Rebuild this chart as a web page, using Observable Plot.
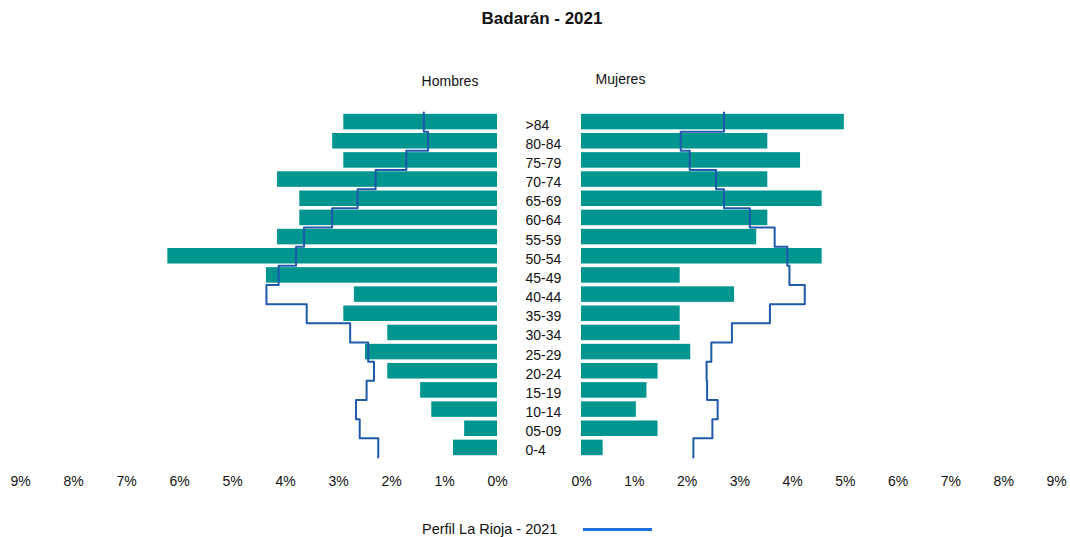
<!DOCTYPE html>
<html><head><meta charset="utf-8">
<script src="https://cdn.jsdelivr.net/npm/d3@7"></script>
<script src="https://cdn.jsdelivr.net/npm/@observablehq/plot@0.6"></script>
<style>
body{margin:0;background:#fff;font-family:"Liberation Sans",Arial,sans-serif;color:#111}
#root{position:relative;width:1070px;height:537px;overflow:hidden;background:#fff}
.abs{position:absolute;white-space:nowrap}
</style></head><body><div id="root"></div>
<script>
const title = "Badarán - 2021";
const leftTitle = "Hombres";
const rightTitle = "Mujeres";
const legendLabel = "Perfil La Rioja - 2021";
const ageGroups = [">84","80-84","75-79","70-74","65-69","60-64","55-59","50-54","45-49","40-44","35-39","30-34","25-29","20-24","15-19","10-14","05-09","0-4"];
const menPct   = [2.90,3.11,2.90,4.15,3.73,3.73,4.15,6.22,4.36,2.70,2.90,2.07,2.49,2.07,1.45,1.24,0.62,0.83];
const womenPct = [4.98,3.53,4.15,3.53,4.56,3.53,3.32,4.56,1.87,2.90,1.87,1.87,2.07,1.45,1.24,1.04,1.45,0.41];
const menRioja   = [1.39,1.31,1.72,2.30,2.64,3.12,3.65,3.80,4.13,4.36,3.60,2.78,2.44,2.33,2.47,2.67,2.60,2.25];
const womenRioja = [2.70,1.88,2.05,2.55,2.70,3.19,3.66,3.90,3.94,4.23,3.57,2.85,2.46,2.37,2.38,2.58,2.48,2.12];
const xTicks = [0,1,2,3,4,5,6,7,8,9];

const barColor = "#00958f";
const lineColor = "#1f5aaa";
const font = "'Liberation Sans', Arial, sans-serif";

function side(values, profile, opts) {
  const rows = ageGroups.map((g, i) => ({i, g, v: values[i]}));
  const steps = ageGroups.flatMap((g, i) => [{x: profile[i], y: i - 0.5}, {x: profile[i], y: i + 0.5}]);
  const marks = [
    Plot.rect(rows, {x1: 0, x2: "v", y1: d => d.i - 0.405, y2: d => d.i + 0.405, fill: barColor}),
    Plot.line(steps, {x: "x", y: "y", stroke: lineColor, strokeWidth: 2}),
    Plot.axisX({ticks: xTicks, tickFormat: d => d + "%", tickSize: 0, tickPadding: 19, label: null})
  ];
  if (opts.ageLabels) {
    marks.push(Plot.axisY({ticks: ageGroups.map((_, i) => i), tickFormat: i => ageGroups[i], tickSize: 0, tickPadding: 56, textAnchor: "start", dy: 3, label: null}));
  }
  return Plot.plot({
    width: opts.width, height: 400,
    marginTop: 12, marginBottom: 43, marginLeft: opts.marginLeft, marginRight: opts.marginRight,
    x: {domain: [0, 9], reverse: opts.reverse, label: null},
    y: {domain: [-0.5, 17.5], reverse: true, label: null, axis: opts.ageLabels ? undefined : null},
    style: {background: "transparent", overflow: "visible", fontFamily: font, fontSize: "14px", color: "#111"},
    marks
  });
}

const root = document.getElementById("root");
function addDiv(text, css) {
  const d = document.createElement("div");
  d.className = "abs";
  d.textContent = text;
  Object.assign(d.style, css);
  root.appendChild(d);
  return d;
}

addDiv(title, {left: "0px", width: "1084px", top: "10px", textAlign: "center", fontSize: "17px", fontWeight: "bold", lineHeight: "18px"});
addDiv(leftTitle, {left: "400px", width: "100px", top: "72px", textAlign: "center", fontSize: "14px", lineHeight: "18px"});
addDiv(rightTitle, {left: "570px", width: "101px", top: "70px", textAlign: "center", fontSize: "14px", lineHeight: "18px"});

const left = side(menPct, menRioja, {width: 517, marginLeft: 20, marginRight: 20, reverse: true, ageLabels: false});
left.style.position = "absolute"; left.style.left = "0px"; left.style.top = "100px";
root.appendChild(left);

const right = side(womenPct, womenRioja, {width: 573, marginLeft: 84, marginRight: 14, reverse: false, ageLabels: true});
right.style.position = "absolute"; right.style.left = "497px"; right.style.top = "100px";
root.appendChild(right);

addDiv(legendLabel, {left: "422px", top: "520px", fontSize: "14.5px", lineHeight: "18px"});
const ln = addDiv("", {left: "583px", top: "528px", width: "69px", height: "2.5px", background: "#1e6fd9"});
</script></body></html>
